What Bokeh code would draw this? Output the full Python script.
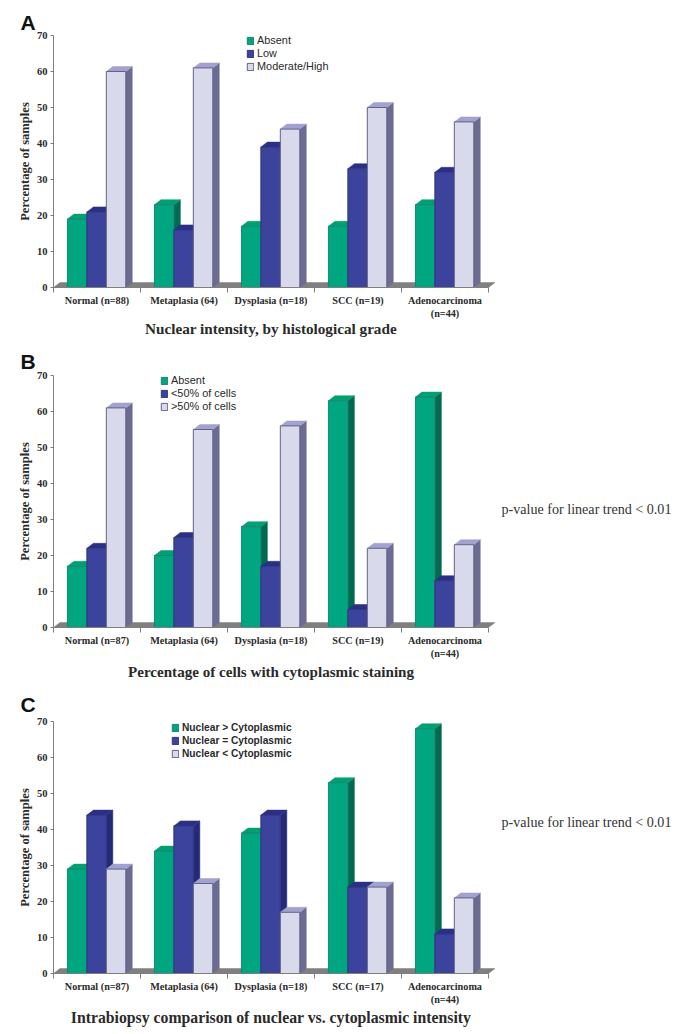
from bokeh.plotting import figure
from bokeh.layouts import column
from bokeh.models import Range1d, FixedTicker, Label, Legend, LegendItem
from bokeh.embed import file_html
from bokeh.resources import INLINE
from math import pi

groups_a = ["Normal (n=88)", "Metaplasia (64)", "Dysplasia (n=18)", "SCC (n=19)", "Adenocarcinoma\n(n=44)"]
groups_b = ["Normal (n=87)", "Metaplasia (64)", "Dysplasia (n=18)", "SCC (n=19)", "Adenocarcinoma\n(n=44)"]
groups_c = ["Normal (n=87)", "Metaplasia (64)", "Dysplasia (n=18)", "SCC (n=17)", "Adenocarcinoma\n(n=44)"]

a_absent = [19, 23, 17, 17, 23]
a_low = [21, 16, 39, 33, 32]
a_high = [60, 61, 44, 50, 46]
a_names = ["Absent", "Low", "Moderate/High"]

b_absent = [17, 20, 28, 63, 64]
b_low = [22, 25, 17, 5, 13]
b_high = [61, 55, 56, 22, 23]
b_names = ["Absent", "<50% of cells", ">50% of cells"]

c_gt = [29, 34, 39, 53, 68]
c_eq = [44, 41, 44, 24, 11]
c_lt = [29, 25, 17, 24, 21]
c_names = ["Nuclear > Cytoplasmic", "Nuclear = Cytoplasmic", "Nuclear < Cytoplasmic"]

titles = ["Nuclear intensity, by histological grade",
          "Percentage of cells with cytoplasmic staining",
          "Intrabiopsy comparison of nuclear vs. cytoplasmic intensity"]
y_title = "Percentage of samples"
p_note = "p-value for linear trend < 0.01"

SERIF = "Liberation Serif"
SANS = "Liberation Sans"
AXIS_X0 = 53.0   # page px of category axis start
PX_X = 87.0      # px per category
PX_Y = 3.6       # px per percent
WIDTH = 683
DX = 6.5 / PX_X  # depth of 3D effect
DY = 5.0 / PX_Y
GAP = 0.16
BW = 0.2236

STYLE = [
    dict(front="#00A680", top="#00A070", side="#006B50", line="#1B8273"),
    dict(front="#3B439C", top="#2B2F86", side="#252A78", line="#30377F"),
    dict(front="#D9D9EC", top="#A2A2D0", side="#6C6C92", line="#62628A"),
]
TEXT = "#2A2A2A"
AXIS = "#7F7F7F"


def panel(letter, groups, series, names, title, fig_top, fig_bottom, base, legend_xb, title_y, title_size,
          letter_y, note_y=None, legend_style="normal", legend_size="10.9px", legend_spacing=1):
    X = lambda px: (px - AXIS_X0) / PX_X
    Y = lambda py: (base - py) / PX_Y
    p = figure(width=WIDTH, height=fig_bottom - fig_top, output_backend="svg", toolbar_location=None,
               x_range=Range1d(X(0), X(WIDTH)), y_range=Range1d(Y(fig_bottom), Y(fig_top)),
               min_border_left=0, min_border_right=0, min_border_top=0, min_border_bottom=0)
    p.grid.visible = False
    p.outline_line_color = None

    p.patch([0, 5, 5 + DX, DX], [0, 0, DY, DY], fill_color="#808080", line_color="#808080", line_width=0.5)

    items = []
    for k, (vals, st, name) in enumerate(zip(series, STYLE, names)):
        lefts = [i + GAP + k * BW for i in range(5)]
        rights = [l + BW for l in lefts]
        p.patches([[r, r + DX, r + DX, r] for r in rights],
                  [[0, DY, v + DY, v] for v in vals],
                  fill_color=st["side"], line_color=st["side"], line_width=0.5)
        p.patches([[l, r, r + DX, l + DX] for l, r in zip(lefts, rights)],
                  [[v, v, v + DY, v + DY] for v in vals],
                  fill_color=st["top"], line_color=st["top"], line_width=0.5)
        q = p.quad(left=lefts, right=rights, bottom=0, top=vals,
                   fill_color=st["front"], line_color=st["line"], line_width=1)
        items.append(LegendItem(label=name, renderers=[q]))

    legend = Legend(items=items, location=(legend_xb[0], fig_bottom - legend_xb[1]), margin=0, padding=0,
                    spacing=legend_spacing,
                    glyph_width=8, glyph_height=9, label_standoff=3, label_height=9,
                    border_line_color=None, background_fill_alpha=0,
                    label_text_font=SANS, label_text_font_size=legend_size, label_text_font_style=legend_style,
                    label_text_color=TEXT)
    p.add_layout(legend, "center")

    xa = p.xaxis[0]
    xa.fixed_location = 0
    xa.bounds = (0, 5)
    xa.ticker = FixedTicker(ticks=[i + 0.5 for i in range(5)], minor_ticks=list(range(6)))
    xa.major_label_overrides = {i + 0.5: g for i, g in enumerate(groups)}
    xa.major_tick_out = 0
    xa.major_tick_in = 0
    xa.minor_tick_out = 5
    xa.minor_tick_in = 0
    xa.major_label_standoff = 2
    xa.major_label_text_font = SERIF
    xa.major_label_text_font_style = "bold"
    xa.major_label_text_font_size = "10.2px"
    xa.major_label_text_color = TEXT
    xa.axis_line_color = AXIS
    xa.minor_tick_line_color = AXIS

    ya = p.yaxis[0]
    ya.fixed_location = 0
    ya.bounds = (0, 70)
    ya.ticker = FixedTicker(ticks=list(range(0, 71, 10)), minor_ticks=[])
    ya.major_tick_out = 3
    ya.major_tick_in = 0
    ya.major_label_standoff = 3
    ya.major_label_text_font = SERIF
    ya.major_label_text_font_style = "bold"
    ya.major_label_text_font_size = "10.5px"
    ya.major_label_text_color = TEXT
    ya.axis_line_color = AXIS
    ya.major_tick_line_color = AXIS

    p.add_layout(Label(x=X(24), y=35, text=y_title, angle=pi / 2,
                       text_font=SERIF, text_font_style="bold", text_font_size="12.6px", text_color=TEXT,
                       text_align="center", text_baseline="middle"))
    p.add_layout(Label(x=2.5, y=Y(title_y), text=title,
                       text_font=SERIF, text_font_style="bold", text_font_size=title_size, text_color=TEXT,
                       text_align="center", text_baseline="middle"))
    p.add_layout(Label(x=X(20), y=Y(letter_y), text=letter,
                       text_font=SANS, text_font_style="bold", text_font_size="21px",
                       text_color="#111111", text_baseline="middle", text_align="left"))
    if note_y is not None:
        p.add_layout(Label(x=X(501), y=Y(note_y), text=p_note,
                           text_font=SERIF, text_font_size="14.1px", text_color="#333333",
                           text_baseline="middle", text_align="left"))
    return p


pa = panel("A", groups_a, [a_absent, a_low, a_high], a_names, titles[0], 0, 345, 287, (246, 72), 328, "15.2px", 22)
pb = panel("B", groups_b, [b_absent, b_low, b_high], b_names, titles[1], 345, 685, 627, (160, 412), 671, "15.1px", 361, note_y=508)
pc = panel("C", groups_c, [c_gt, c_eq, c_lt], c_names, titles[2], 685, 1032, 973, (171, 759), 1017, "15.75px", 704, note_y=821,
           legend_style="bold", legend_size="10.2px", legend_spacing=2)

page = column(pa, pb, pc, spacing=0)
open("out.html", "w").write(file_html(page, INLINE))
